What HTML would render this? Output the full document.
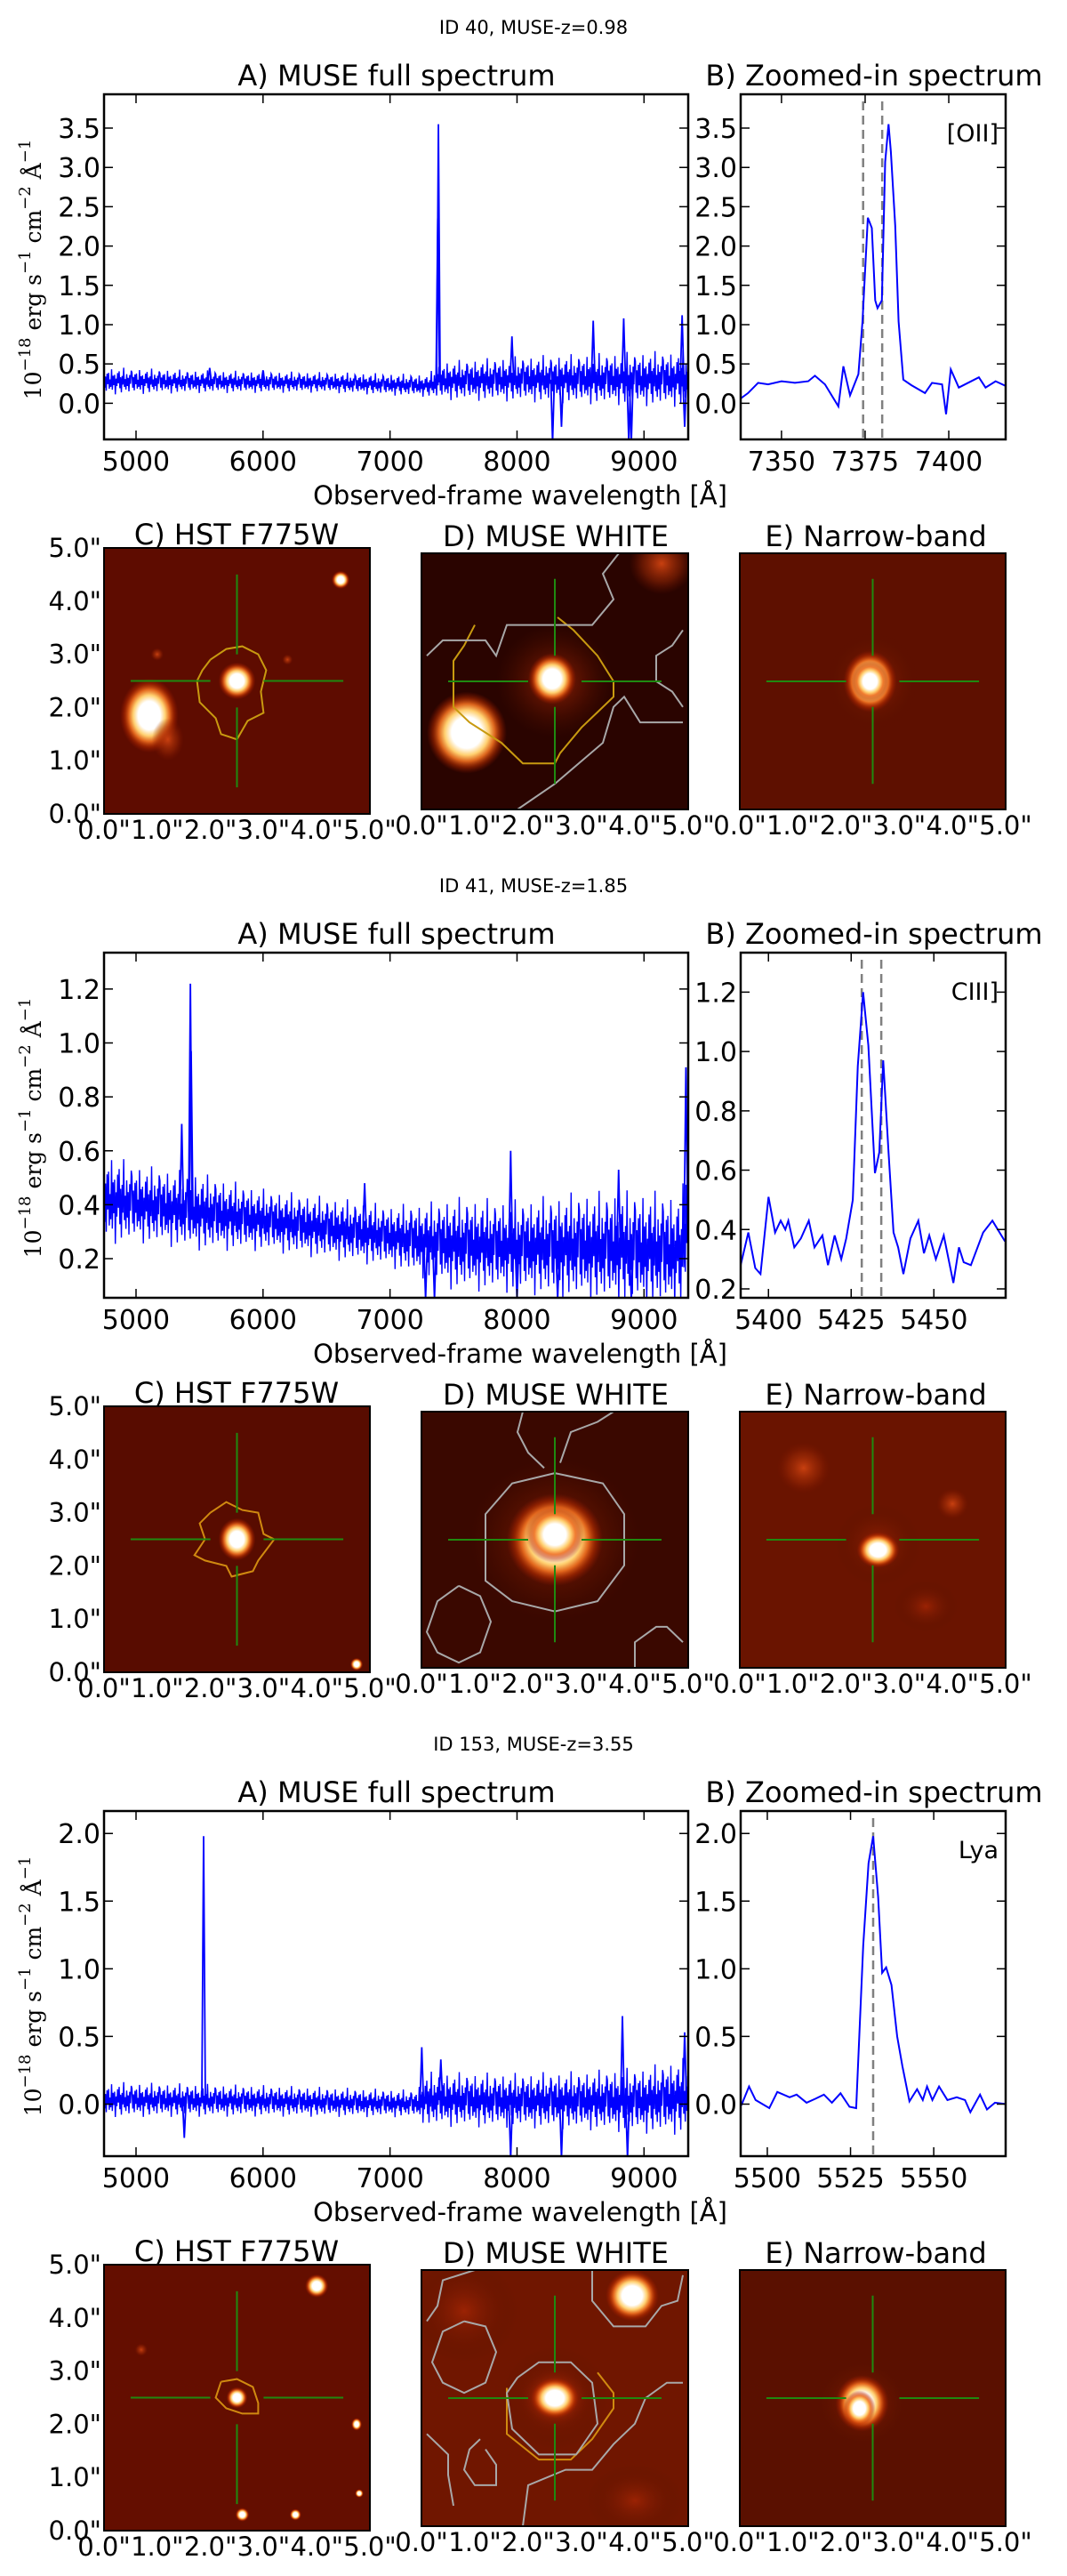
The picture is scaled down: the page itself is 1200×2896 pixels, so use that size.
<!DOCTYPE html>
<html><head><meta charset="utf-8"><title>MUSE spectra</title>
<style>
html,body{margin:0;padding:0;background:#fff;}
svg{display:block;}
text{font-family:"DejaVu Sans","Liberation Sans",sans-serif;fill:#000;}
.serif{font-family:"DejaVu Serif","Liberation Serif",serif;}
</style></head>
<body>
<svg id="fig" xmlns="http://www.w3.org/2000/svg" width="1200" height="2896" viewBox="0 0 1200 2896">
<defs>
<radialGradient id="hot" cx="50%" cy="50%" r="50%">
<stop offset="0" stop-color="#ffffff"/>
<stop offset="0.38" stop-color="#ffffff"/>
<stop offset="0.55" stop-color="#ffd070"/>
<stop offset="0.7" stop-color="#f07020" stop-opacity="0.9"/>
<stop offset="0.85" stop-color="#c03000" stop-opacity="0.5"/>
<stop offset="1" stop-color="#a01800" stop-opacity="0"/>
</radialGradient>
<radialGradient id="dim" cx="50%" cy="50%" r="50%">
<stop offset="0" stop-color="#c84010"/>
<stop offset="0.6" stop-color="#a02a05" stop-opacity="0.5"/>
<stop offset="1" stop-color="#801500" stop-opacity="0"/>
</radialGradient>
<radialGradient id="glow" cx="50%" cy="50%" r="50%">
<stop offset="0" stop-color="#a02404" stop-opacity="0.9"/>
<stop offset="1" stop-color="#501000" stop-opacity="0"/>
</radialGradient>
</defs>
</svg>
<script>
// ===== Block 1: ID 40 =====
const b1_title = "ID 40, MUSE-z=0.98";
const b1_full_knot_wl = [4750, 5500, 6500, 7300, 7400, 8000, 8500, 9000, 9350];
const b1_full_cont    = [0.28, 0.27, 0.26, 0.22, 0.28, 0.30, 0.30, 0.30, 0.30];
const b1_full_noise   = [0.12, 0.10, 0.09, 0.10, 0.17, 0.20, 0.22, 0.24, 0.25];
const b1_spike_wl  = [7376, 7381, 7960, 8600, 8840, 8880, 9300, 8280, 8350, 8900, 9320, 5580, 6000];
const b1_spike_val = [2.35, 3.55, 0.85, 1.05, 1.08, -0.50, 1.12, -0.50, -0.30, -0.50, -0.30, 0.45, 0.42];
const b1_zoom_wl   = [7337.8,7340,7343,7346,7350,7354,7358,7360,7363,7367,7368.5,7370.5,7373,7374.2,7375.8,7377,7378,7378.7,7380,7381,7382,7382.7,7384,7385,7386.4,7388.8,7392.9,7395,7398,7399.2,7400.6,7403,7409,7411,7414,7417];
const b1_zoom_flux = [0.06,0.13,0.26,0.24,0.28,0.26,0.28,0.35,0.24,-0.04,0.47,0.10,0.37,1.04,2.36,2.23,1.31,1.21,1.31,3.07,3.55,3.20,2.26,1.04,0.30,0.23,0.13,0.26,0.24,-0.14,0.43,0.20,0.33,0.20,0.28,0.22];
const b1_lines_wl = [7374.4, 7380.1];
const b1_line_label = "[OII]";
const b1_ylim = [-0.46, 3.93];
const b1_yticks = [0.0, 0.5, 1.0, 1.5, 2.0, 2.5, 3.0, 3.5];
const b1_zoom_xlim = [7337.8, 7417];
const b1_zoom_xticks = [7350, 7375, 7400];

// ===== Block 2: ID 41 =====
const b2_title = "ID 41, MUSE-z=1.85";
const b2_full_knot_wl = [4750, 5000, 5500, 6000, 6500, 7000, 7300, 7500, 8000, 8500, 9000, 9300, 9350];
const b2_full_cont    = [0.42, 0.40, 0.37, 0.34, 0.31, 0.28, 0.26, 0.25, 0.24, 0.24, 0.23, 0.22, 0.40];
const b2_full_noise   = [0.12, 0.10, 0.10, 0.08, 0.08, 0.08, 0.10, 0.12, 0.12, 0.14, 0.15, 0.15, 0.20];
const b2_spike_wl  = [5360, 5428, 5434, 6800, 7950, 8800, 9330, 7280, 7350, 8000, 8320, 8900];
const b2_spike_val = [0.70, 1.22, 0.97, 0.48, 0.60, 0.53, 0.91, 0.05, 0.05, 0.05, 0.05, 0.05];
const b2_zoom_wl   = [5391.6,5393.9,5396,5397.6,5400,5402,5403.7,5405.1,5406,5407.8,5409.8,5412.2,5413.9,5416.3,5418,5420,5422,5423.5,5425.5,5427,5428.6,5430.2,5432.2,5433.5,5434.7,5436.3,5437.8,5439.2,5440.8,5442.9,5445.3,5447,5448.6,5450.6,5453,5455.9,5457.6,5459,5461.2,5464.9,5467.7,5471.5];
const b2_zoom_flux = [0.28,0.39,0.27,0.25,0.51,0.39,0.43,0.40,0.43,0.34,0.37,0.43,0.34,0.38,0.28,0.38,0.30,0.37,0.50,0.95,1.20,1.02,0.59,0.66,0.97,0.66,0.39,0.34,0.25,0.37,0.43,0.32,0.38,0.30,0.38,0.22,0.34,0.29,0.28,0.39,0.43,0.36];
const b2_lines_wl = [5428.2, 5434.1];
const b2_line_label = "CIII]";
const b2_ylim = [0.055, 1.335];
const b2_zoom_ylim = [0.17, 1.333];
const b2_yticks = [0.2, 0.4, 0.6, 0.8, 1.0, 1.2];
const b2_zoom_xlim = [5391.6, 5471.7];
const b2_zoom_xticks = [5400, 5425, 5450];

// ===== Block 3: ID 153 =====
const b3_title = "ID 153, MUSE-z=3.55";
const b3_full_knot_wl = [4750, 6000, 7200, 7300, 8000, 8500, 9000, 9350];
const b3_full_cont    = [0.03, 0.02, 0.00, 0.03, 0.02, 0.02, 0.02, 0.05];
const b3_full_noise   = [0.09, 0.08, 0.07, 0.14, 0.14, 0.15, 0.17, 0.20];
const b3_spike_wl  = [5532, 7250, 8830, 9320, 7950, 8350, 8870, 7400, 5380];
const b3_spike_val = [1.98, 0.42, 0.65, 0.53, -0.40, -0.40, -0.40, 0.33, -0.25];
const b3_zoom_wl   = [5492.2,5494.5,5496.5,5500.6,5503,5506.7,5508.8,5511.8,5514.5,5517,5519.4,5522,5524.7,5526.7,5528.8,5530.4,5531.8,5533.3,5534.5,5535.7,5537.3,5539,5540.6,5542.7,5545,5546.7,5548,5549.6,5551.6,5554.1,5556.9,5559.4,5561,5563.9,5566,5568.4,5571.6];
const b3_zoom_flux = [-0.01,0.13,0.03,-0.03,0.09,0.05,0.07,0.01,0.04,0.07,0.01,0.08,-0.02,-0.03,1.17,1.78,1.98,1.53,0.97,1.01,0.88,0.50,0.28,0.02,0.11,0.03,0.13,0.03,0.13,0.03,0.05,0.03,-0.06,0.07,-0.04,0.01,0.00];
const b3_lines_wl = [5531.8];
const b3_line_label = "Lya";
const b3_ylim = [-0.385, 2.166];
const b3_yticks = [0.0, 0.5, 1.0, 1.5, 2.0];
const b3_zoom_xlim = [5492, 5571.6];
const b3_zoom_xticks = [5500, 5525, 5550];

const full_xlim = [4748, 9348];
const full_xticks = [5000, 6000, 7000, 8000, 9000];

const NS = "http://www.w3.org/2000/svg";
const svg = document.getElementById("fig");
function mk(tag, attrs, parent) {
  const e = document.createElementNS(NS, tag);
  for (const k in attrs) e.setAttribute(k, attrs[k]);
  (parent || svg).appendChild(e);
  return e;
}
function interp(xs, ys, x) {
  if (x <= xs[0]) return ys[0];
  for (let i = 1; i < xs.length; i++) if (x <= xs[i]) {
    const t = (x - xs[i-1]) / (xs[i] - xs[i-1]); return ys[i-1] + t * (ys[i] - ys[i-1]);
  }
  return ys[ys.length-1];
}
const fmt1 = v => v.toFixed(1);

function axesFrame(g, x0, y0, w, h, sx, sy, xticks, yticks, xlab, ylab, yfmt) {
  xticks.forEach(t => {
    const X = sx(t);
    const tk = mk("path", {d:`M${X},${y0+h}v-10M${X},${y0}v10`, stroke:"#000","stroke-width":1.5}, g);
    
    
    if (xlab) {
      const tx = mk("text", {x:X, y:y0+h+35, "font-size":30, "text-anchor":"middle"}, g);
      
      
      tx.textContent = String(t);
    }
  });
  yticks.forEach(t => {
    const Y = sy(t);
    const tk = mk("path", {d:`M${x0},${Y}h10M${x0+w},${Y}h-10`, stroke:"#000","stroke-width":1.5}, g);
    
    
    if (ylab) {
      const tx = mk("text", {x:x0-4, y:Y+11, "font-size":30, "text-anchor":"end"}, g);
      
      
      tx.textContent = yfmt(t);
    }
  });
  const fr = mk("rect", {x:x0, y:y0, width:w, height:h, fill:"none", stroke:"#000", "stroke-width":2.5}, g);
  
  
}

function fullSpectrum(g, oy, knots, cont, noise, swl, sval, ylim, yticks) {
  const x0 = 117, y0 = 106 + oy, w = 657, h = 388;
  const sx = v => x0 + (v - full_xlim[0]) / (full_xlim[1] - full_xlim[0]) * w;
  const sy = v => y0 + h - (v - ylim[0]) / (ylim[1] - ylim[0]) * h;
  const clipId = "clipA" + oy;
  const cp = mk("clipPath", {id: clipId}, g);
  mk("rect", {x:x0, y:y0, width:w, height:h}, cp);
  const pat = [1,-0.7,0.5,-1,0.8,-0.3,0.9,-0.8,0.2,-0.6,1.3,-0.9,0.6,-0.4,0.7,-1.4,0.3,-0.5,0.9,-0.2,1.1,-0.75,0.45,-1.2,0.6,-0.35,1.5,-0.6,0.25,-0.9,0.8,-0.5,0.4,-1.1,0.7,-0.25,1.2];
  let d = "";
  let i = 0;
  for (let X = x0; X <= x0 + w; X += 0.85, i++) {
    const lam = full_xlim[0] + (X - x0) / w * (full_xlim[1] - full_xlim[0]);
    const c = interp(knots, cont, lam), n = interp(knots, noise, lam);
    const Yv = sy(c + n * pat[i % pat.length]);
    d += (i ? "L" : "M") + X.toFixed(1) + "," + Yv.toFixed(1);
  }
  const ln = mk("path", {d, fill:"none", stroke:"#0000ff", "stroke-width":1.4, "clip-path":`url(#${clipId})`}, g);
  
  
  swl.forEach((lam, k) => {
    const c = interp(knots, cont, lam);
    const X = sx(lam);
    const sp = mk("path", {d:`M${X-2},${sy(c)}L${X},${sy(sval[k])}L${X+2},${sy(c)}`, fill:"none", stroke:"#0000ff", "stroke-width":1.8, "clip-path":`url(#${clipId})`}, g);
    
    
  });
  axesFrame(g, x0, y0, w, h, sx, sy, full_xticks, yticks, true, true, fmt1);
}

function zoomSpectrum(g, oy, wl, flux, xlim, ylim, xticks, yticks, lines, label) {
  const x0 = 833, y0 = 106 + oy, w = 298, h = 388;
  const sx = v => x0 + (v - xlim[0]) / (xlim[1] - xlim[0]) * w;
  const sy = v => y0 + h - (v - ylim[0]) / (ylim[1] - ylim[0]) * h;
  lines.forEach(l => {
    const dl = mk("line", {x1:sx(l), x2:sx(l), y1:y0+8, y2:y0+h, stroke:"#808080", "stroke-width":2.5, "stroke-dasharray":"10,6"}, g);
    
    
  });
  const d = wl.map((v, k) => (k ? "L" : "M") + sx(v).toFixed(1) + "," + sy(flux[k]).toFixed(1)).join("");
  const ln = mk("path", {d, fill:"none", stroke:"#0000ff", "stroke-width":2}, g);
  
  
  axesFrame(g, x0, y0, w, h, sx, sy, xticks, yticks, true, true, fmt1);
  const lb = mk("text", {x:x0+w-8, y:y0+53, "font-size":27, "text-anchor":"end"}, g);
  
  
  lb.textContent = label;
}

function text(g, x, y, s, size, anchor, name) {
  const t = mk("text", {x, y, "font-size":size, "text-anchor":anchor}, g);
  
  
  t.textContent = s;
  return t;
}

function yLabel(g, oy) {
  const t = mk("text", {transform:`translate(46,${303+oy}) rotate(-90)`, "font-size":25, "text-anchor":"middle", class:"serif"}, g);
  
  
  const parts = [["10",0],["−18",1],[" erg s",0],["−1",1],[" cm",0],["−2",1],[" Å",0],["−1",1]];
  parts.forEach(p => {
    const ts = mk("tspan", p[1] ? {"font-size":18, dy:-12} : {"font-size":25, dy: 0}, t);
    ts.textContent = p[0];
    if (p[1]) { const r = mk("tspan", {"font-size":1, dy:12}, t); r.textContent = "\u200b"; }
  });
}

function imagePanel(g, x0, y0, w, h, bg, blobs, contours, leftLabels, name) {
  const pg = mk("g", {}, g);
  
  
  const cid = "clip" + name + y0;
  const cp = mk("clipPath", {id: cid}, pg);
  mk("rect", {x:x0, y:y0, width:w, height:h}, cp);
  const inner = mk("g", {"clip-path":`url(#${cid})`}, pg);
  mk("rect", {x:x0, y:y0, width:w, height:h, fill:bg}, inner);
  const ax = a => x0 + a / 5 * w, ay = a => y0 + h - a / 5 * h;
  blobs.forEach(b => {
    const e = mk("ellipse", {cx:ax(b[0]), cy:ay(b[1]), rx:b[2]/5*w, ry:b[3]/5*h, fill:`url(#${b[4]})`}, inner);
    
    
  });
  contours.forEach(c => {
    const pts = [];
    for (let i = 0; i < c[1].length; i += 2) pts.push(ax(c[1][i]).toFixed(1) + "," + ay(c[1][i+1]).toFixed(1));
    const p = mk("polyline", {points: pts.join(" "), fill:"none", stroke:c[0], "stroke-width":2}, inner);
    
    
  });
  const cx = ax(2.5), cy = ay(2.5);
  const gx = 0.5 / 5 * w, lx = 2.0 / 5 * w, gy = 0.5 / 5 * h, ly = 2.0 / 5 * h;
  const ch = mk("path", {d:`M${cx-lx},${cy}H${cx-gx}M${cx+gx},${cy}H${cx+lx}M${cx},${cy-ly}V${cy-gy}M${cx},${cy+gy}V${cy+ly}`, stroke:"#1f8a10", "stroke-width":2}, inner);
  
  
  const fr = mk("rect", {x:x0, y:y0, width:w, height:h, fill:"none", stroke:"#000", "stroke-width":2}, pg);
  
  
  [0,1,2,3,4,5].forEach(i => {
    text(pg, ax(i), y0 + h + 28, i.toFixed(1) + '"', 29, "middle", "image-x-tick-label");
    if (leftLabels) text(pg, x0 - 3, ay(i) + 10, i.toFixed(1) + '"', 29, "end", "image-y-tick-label");
  });
}

const Y = "#c89a10", G = "#a8a8a8", O = "#d08a10";
const blocks = [
  {title:b1_title, knots:b1_full_knot_wl, cont:b1_full_cont, noise:b1_full_noise, swl:b1_spike_wl, sval:b1_spike_val,
   ylim:b1_ylim, zylim:b1_ylim, yticks:b1_yticks, zwl:b1_zoom_wl, zfl:b1_zoom_flux, zxlim:b1_zoom_xlim, zxt:b1_zoom_xticks, lines:b1_lines_wl, label:b1_line_label,
   C:{bg:"#5e0c00", blobs:[[2.5,2.5,0.35,0.35,"hot"],[0.85,1.85,0.55,0.7,"hot"],[1.2,1.4,0.3,0.4,"dim"],[4.45,4.4,0.17,0.17,"hot"],[3.45,2.9,0.1,0.1,"dim"],[1.0,3.0,0.12,0.12,"dim"]],
      contours:[[Y,[2.0,2.9,2.3,3.1,2.6,3.15,2.9,3.0,3.05,2.7,2.95,2.3,3.0,1.9,2.7,1.75,2.5,1.4,2.2,1.5,2.1,1.8,1.8,2.1,1.75,2.5,1.85,2.7,2.0,2.9]]]},
   D:{bg:"#2a0400", blobs:[[2.5,2.5,1.1,1.1,"glow"],[2.45,2.55,0.45,0.5,"hot"],[0.85,1.5,0.75,0.8,"hot"],[4.5,4.8,0.6,0.6,"dim"]],
      contours:[[Y,[2.55,3.75,2.85,3.5,3.3,3.0,3.6,2.5,3.6,2.2,3.3,1.9,3.0,1.6,2.6,1.1,2.5,0.9,1.9,0.9,1.5,1.3,0.9,1.7,0.6,2.0,0.6,2.9,0.8,3.2,1.0,3.6]],
               [G,[0.1,3.0,0.4,3.3,1.2,3.3,1.4,3.0,1.6,3.6,3.2,3.6,3.6,4.1,3.4,4.6,3.7,5.0]],
               [G,[4.9,3.5,4.7,3.2,4.4,3.0,4.4,2.5,4.7,2.3,4.9,2.0]],
               [G,[4.9,1.7,4.1,1.7,3.8,2.2,3.6,2.0,3.4,1.3,2.5,0.5,1.8,0.0,1.0,0.0,0.8,-0.1]]]},
   E:{bg:"#5e1000", blobs:[[2.5,2.5,0.9,1.0,"glow"],[2.45,2.5,0.5,0.6,"hot"],[2.45,2.5,0.35,0.4,"hot"]], contours:[]}},
  {title:b2_title, knots:b2_full_knot_wl, cont:b2_full_cont, noise:b2_full_noise, swl:b2_spike_wl, sval:b2_spike_val,
   ylim:b2_ylim, zylim:b2_zoom_ylim, yticks:b2_yticks, zwl:b2_zoom_wl, zfl:b2_zoom_flux, zxlim:b2_zoom_xlim, zxt:b2_zoom_xticks, lines:b2_lines_wl, label:b2_line_label,
   C:{bg:"#580c00", blobs:[[2.5,2.5,0.35,0.4,"hot"],[4.75,0.15,0.12,0.12,"hot"]],
      contours:[[O,[2.0,3.0,2.3,3.2,2.6,3.05,2.9,3.0,3.0,2.6,3.2,2.5,2.9,2.1,2.8,1.9,2.4,1.8,2.3,2.0,1.9,2.1,1.7,2.2,1.9,2.5,1.8,2.8,2.0,3.0]]]},
   D:{bg:"#3a0800", blobs:[[2.5,2.5,1.6,1.6,"glow"],[2.5,2.5,0.9,0.9,"hot"],[2.5,2.6,0.55,0.55,"hot"]],
      contours:[[G,[2.5,3.8,3.4,3.6,3.8,3.0,3.8,2.0,3.3,1.3,2.5,1.1,1.7,1.3,1.2,1.7,1.2,3.0,1.7,3.6,2.5,3.8]],
               [G,[0.7,1.6,1.1,1.4,1.3,0.9,1.1,0.3,0.7,0.1,0.3,0.3,0.1,0.7,0.3,1.3,0.7,1.6]],
               [G,[2.3,3.9,2.0,4.2,1.8,4.6,1.9,5.0]],
               [G,[2.6,4.0,2.8,4.6,3.3,4.8,3.6,5.0]],
               [G,[4.0,0.0,4.0,0.5,4.4,0.8,4.6,0.8,4.9,0.5]]]},
   E:{bg:"#6a1400", blobs:[[2.6,2.4,0.8,0.8,"glow"],[2.6,2.3,0.4,0.35,"hot"],[1.2,3.9,0.5,0.5,"dim"],[4.0,3.2,0.3,0.3,"dim"],[3.5,1.2,0.6,0.5,"glow"]], contours:[]}},
  {title:b3_title, knots:b3_full_knot_wl, cont:b3_full_cont, noise:b3_full_noise, swl:b3_spike_wl, sval:b3_spike_val,
   ylim:b3_ylim, zylim:b3_ylim, yticks:b3_yticks, zwl:b3_zoom_wl, zfl:b3_zoom_flux, zxlim:b3_zoom_xlim, zxt:b3_zoom_xticks, lines:b3_lines_wl, label:b3_line_label,
   C:{bg:"#640e00", blobs:[[2.5,2.5,0.2,0.2,"hot"],[4.0,4.6,0.22,0.22,"hot"],[2.6,0.3,0.13,0.13,"hot"],[3.6,0.3,0.11,0.11,"hot"],[4.75,2.0,0.1,0.12,"hot"],[0.7,3.4,0.12,0.12,"dim"],[4.8,0.7,0.08,0.08,"hot"]],
      contours:[[O,[2.2,2.8,2.5,2.85,2.8,2.7,2.9,2.4,2.9,2.2,2.6,2.2,2.3,2.3,2.1,2.5,2.2,2.8]]]},
   D:{bg:"#701600", blobs:[[2.5,2.5,1.0,1.0,"glow"],[2.5,2.5,0.6,0.55,"dim"],[2.5,2.5,0.45,0.4,"hot"],[3.95,4.5,0.5,0.5,"hot"],[4.0,0.5,0.9,0.7,"glow"],[0.8,4.2,1.0,1.0,"glow"]],
      contours:[[O,[3.3,3.0,3.6,2.6,3.6,2.3,3.2,1.7,2.8,1.3,2.2,1.3,1.6,1.8,1.6,2.7]],
               [G,[1.8,2.9,2.2,3.2,2.8,3.2,3.2,2.8,3.3,2.0,2.9,1.4,2.2,1.4,1.7,1.9,1.6,2.6,1.8,2.9]],
               [G,[0.8,4.0,1.2,3.9,1.4,3.4,1.2,2.8,0.8,2.6,0.4,2.8,0.2,3.2,0.4,3.8,0.8,4.0]],
               [G,[1.2,1.5,1.4,1.2,1.4,0.8,1.0,0.8,0.8,1.1,0.9,1.5,1.1,1.7]],
               [G,[0.1,4.0,0.3,4.3,0.4,4.8,1.0,5.0]],
               [G,[3.2,5.0,3.2,4.4,3.6,3.9,4.2,3.9,4.5,4.3,4.8,4.4,4.9,4.9]],
               [G,[0.1,1.8,0.5,1.4,0.5,1.0,0.6,0.4]],
               [G,[4.9,2.8,4.6,2.8,4.2,2.5,4.0,2.0,3.6,1.6,3.2,1.1,2.7,1.1,2.0,0.8,1.9,0.0]]]},
   E:{bg:"#5a1000", blobs:[[2.3,2.4,0.9,0.9,"glow"],[2.3,2.4,0.5,0.55,"hot"],[2.25,2.3,0.3,0.35,"hot"]], contours:[]}}
];

blocks.forEach((b, k) => {
  const oy = k * 965;
  const g = mk("g", {});
  
  
  text(g, 600, 38 + oy, b.title, 21, "middle", "block-title");
  text(g, 446, 96 + oy, "A) MUSE full spectrum", 32, "middle", "panel-a-title");
  text(g, 983, 96 + oy, "B) Zoomed-in spectrum", 32, "middle", "panel-b-title");
  fullSpectrum(g, oy, b.knots, b.cont, b.noise, b.swl, b.sval, b.ylim, b.yticks);
  zoomSpectrum(g, oy, b.zwl, b.zfl, b.zxlim, b.zylim, b.zxt, b.yticks, b.lines, b.label);
  yLabel(g, oy);
  text(g, 585, 567 + oy, "Observed-frame wavelength [Å]", 29, "middle", "x-axis-title");
  text(g, 266, 612 + oy, "C) HST F775W", 32, "middle", "panel-c-title");
  text(g, 625, 614 + oy, "D) MUSE WHITE", 32, "middle", "panel-d-title");
  text(g, 985, 614 + oy, "E) Narrow-band", 32, "middle", "panel-e-title");
  imagePanel(g, 117, 616 + oy, 299, 299, b.C.bg, b.C.blobs, b.C.contours, true, "hst-image");
  imagePanel(g, 474, 622 + oy, 300, 288, b.D.bg, b.D.blobs, b.D.contours, false, "muse-white-image");
  imagePanel(g, 832, 622 + oy, 299, 288, b.E.bg, b.E.blobs, b.E.contours, false, "narrow-band-image");
});
</script>
</body></html>
